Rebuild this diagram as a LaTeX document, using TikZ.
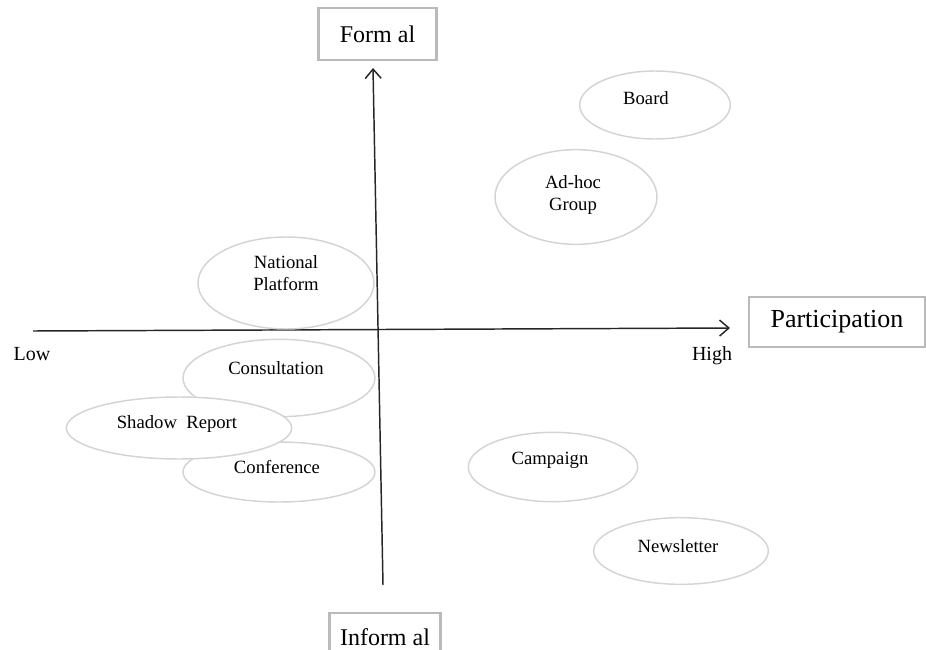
\documentclass[tikz,border=0pt]{standalone}
\usepackage{fontspec}
\setmainfont{Liberation Serif}
\usetikzlibrary{shapes.geometric,arrows.meta}
\begin{document}
\begin{tikzpicture}[x=0.75pt,y=-0.75pt,
  oval/.style={ellipse, draw=black!17, line width=1.1pt, inner sep=0pt},
  lbl/.style={font=\fontsize{14}{16.5}\selectfont, align=center, inner sep=0pt},
  boxlbl/.style={draw=black!27, line width=2.2pt, inner sep=0pt, font=\fontsize{18}{20}\selectfont},
  axis/.style={draw=black!85, line width=1.1pt, -{Straight Barb[length=7pt,width=12pt]}},
  endlbl/.style={font=\fontsize{15}{17}\selectfont, inner sep=0pt}]
\useasboundingbox (0,0) rectangle (926,650);
\clip (0,0) rectangle (926,650);
% axes
\coordinate (hl) at (33,331);
\coordinate (hr) at (730,328);
\coordinate (vb) at (383,585);
\coordinate (vt) at (373,68);
\draw[axis] (hl) -- (hr);
\draw[axis] (vb) -- (vt);
% boxes
\node[boxlbl, minimum width=89pt, minimum height=39pt] (formal) at (377.5,34) {Form al};
\node[boxlbl, minimum width=132pt, minimum height=37.5pt, font=\fontsize{19.5}{22}\selectfont] (part) at (837,322) {Participation};
\node[boxlbl, minimum width=83pt, minimum height=36pt] (informal) at (385,637) {Inform al};
\node[endlbl] (low) at (32,354) {Low};
\node[endlbl] (high) at (712,356) {High};
% ellipses
\node[oval, minimum width=113pt, minimum height=51pt] (board) at (655,105) {};
\node[oval, minimum width=121.5pt, minimum height=71pt] (adhoc) at (576,197) {};
\node[oval, minimum width=132pt, minimum height=69pt] (natl) at (286,283) {};
\node[oval, minimum width=144pt, minimum height=58pt] (consult) at (279,378) {};
\node[oval, minimum width=144pt, minimum height=45pt] (conf) at (279,472) {};
\node[oval, fill=white, minimum width=169pt, minimum height=46.5pt] (shadow) at (179,428) {};
\node[oval, minimum width=127pt, minimum height=52pt] (camp) at (553,467) {};
\node[oval, minimum width=131pt, minimum height=50pt] (news) at (681,551) {};
% labels
\node[lbl] (boardt) at (646,98) {Board};
\node[lbl] (adhoct) at (573,195) {Ad-hoc\\Group};
\node[lbl] (natlt) at (286,273) {National\\Platform};
\node[lbl] (consultt) at (276,368) {Consultation};
\node[lbl] (shadowt) at (177,424) {Shadow~ Report};
\node[lbl] (conft) at (277,467) {Conference};
\node[lbl] (campt) at (550,460) {Campaign};
\node[lbl] (newst) at (678,546) {Newsletter};
\end{tikzpicture}
\end{document}
